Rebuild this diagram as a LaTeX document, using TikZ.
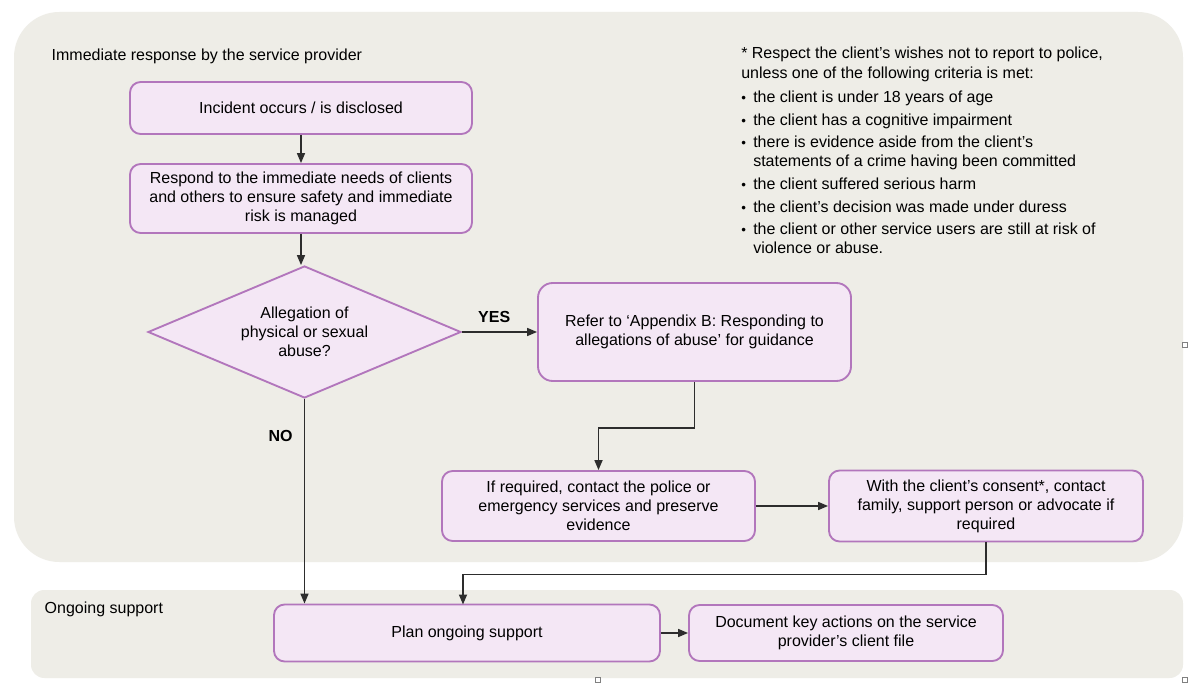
\documentclass[tikz,border=0pt]{standalone}
\usepackage{fontspec}
\setmainfont{Liberation Sans}
\usetikzlibrary{arrows.meta,shapes.geometric,calc}
\definecolor{bgc}{RGB}{238,237,231}
\definecolor{boxfill}{RGB}{244,231,245}
\definecolor{boxdraw}{RGB}{178,118,188}
\definecolor{linec}{RGB}{45,45,45}
\newcommand{\mybul}{\makebox[9pt][l]{\fontsize{10}{10}\selectfont\textbullet}}
\begin{document}
\begin{tikzpicture}[x=0.75pt,y=-0.75pt,
  every node/.style={font=\fontsize{12}{14.25}\selectfont, text=black},
  box/.style={draw=boxdraw, fill=boxfill, line width=1.4pt, rounded corners=8pt, align=center, inner sep=2pt},
  decision/.style={draw=boxdraw, fill=boxfill, line width=1.4pt, diamond, aspect=2.37, inner sep=0pt, align=center},
  arr/.style={draw=linec, line width=1.25pt, -{Triangle[length=7.5pt,width=6pt]}},
  lbl/.style={font=\fontsize{12}{14}\selectfont\bfseries},
  handle/.style={draw=gray, line width=0.4pt, fill=white, minimum size=4pt, inner sep=0pt}]
\useasboundingbox (0,0) rectangle (1200,695);
\fill[white] (0,0) rectangle (1200,695);
\path[fill=bgc, rounded corners=34pt] (14,12) rectangle (1183,562);
\path[fill=bgc, rounded corners=10pt] (31,590) rectangle (1183,678);

\node[anchor=west] (t1) at (47,56) {Immediate response by the service provider};
\node[anchor=west] (t2) at (40,609) {Ongoing support};

\node[box, minimum width=256.5pt, minimum height=39pt] (b1) at (301,108) {Incident occurs / is disclosed};
\node[box, minimum width=256.5pt, minimum height=51.75pt] (b2) at (301,198.5) {Respond to the immediate needs of clients\\and others to ensure safety and immediate\\risk is managed};
\node[decision, minimum width=234.75pt, minimum height=99pt] (d) at (304.5,332) {Allegation of\\physical or sexual\\abuse?};
\node[box, rounded corners=11pt, minimum width=234.75pt, minimum height=73.5pt] (b3) at (694.5,332) {Refer to ‘Appendix B: Responding to\\allegations of abuse’ for guidance};
\node[box, minimum width=234.75pt, minimum height=52.5pt] (b4) at (598.5,506) {If required, contact the police or\\emergency services and preserve\\evidence};
\node[box, minimum width=235.5pt, minimum height=53.25pt] (b5) at (986,506) {With the client’s consent*, contact\\family, support person or advocate if\\required};
\node[box, minimum width=289.5pt, minimum height=42.75pt] (b6) at (467,633) {Plan ongoing support};
\node[box, minimum width=235.5pt, minimum height=42pt] (b7) at (846,633) {Document key actions on the service\\provider’s client file};

\node[anchor=north west, align=left, inner sep=0pt] (note) at (741,47) {%
* Respect the client’s wishes not to report to police,\\[0.75pt]
unless one of the following criteria is met:\\[3.5pt]
\mybul the client is under 18 years of age\\[2.75pt]
\mybul the client has a cognitive impairment\\[2.75pt]
\mybul there is evidence aside from the client’s\\
\hspace*{9pt}statements of a crime having been committed\\[2.75pt]
\mybul the client suffered serious harm\\[2.75pt]
\mybul the client’s decision was made under duress\\[2.75pt]
\mybul the client or other service users are still at risk of\\
\hspace*{9pt}violence or abuse.};

\coordinate (c6) at (463,604.5);
\draw[arr] (b1.south) -- (b2.north);
\draw[arr] (b2.south) -- (b2.south |- d.north);
\draw[arr] (d.east) -- (b3.west) node[lbl, pos=0.43, above=3pt] {YES};
\draw[arr] (b3.south) -- ++(0,46) -| (b4.north);
\draw[arr] (b4.east) -- (b5.west);
\draw[arr] (b5.south) -- ++(0,32) -| (c6);
\draw[arr] (d.south) -- (d.south |- b6.north) node[lbl, pos=0.18, left=5pt] {NO};
\draw[arr] (b6.east) -- (b7.west);

\node[handle] (h1) at (1185,345) {};
\node[handle] (h2) at (598,680) {};
\node[handle] (h3) at (1185,680) {};
\end{tikzpicture}
\end{document}
